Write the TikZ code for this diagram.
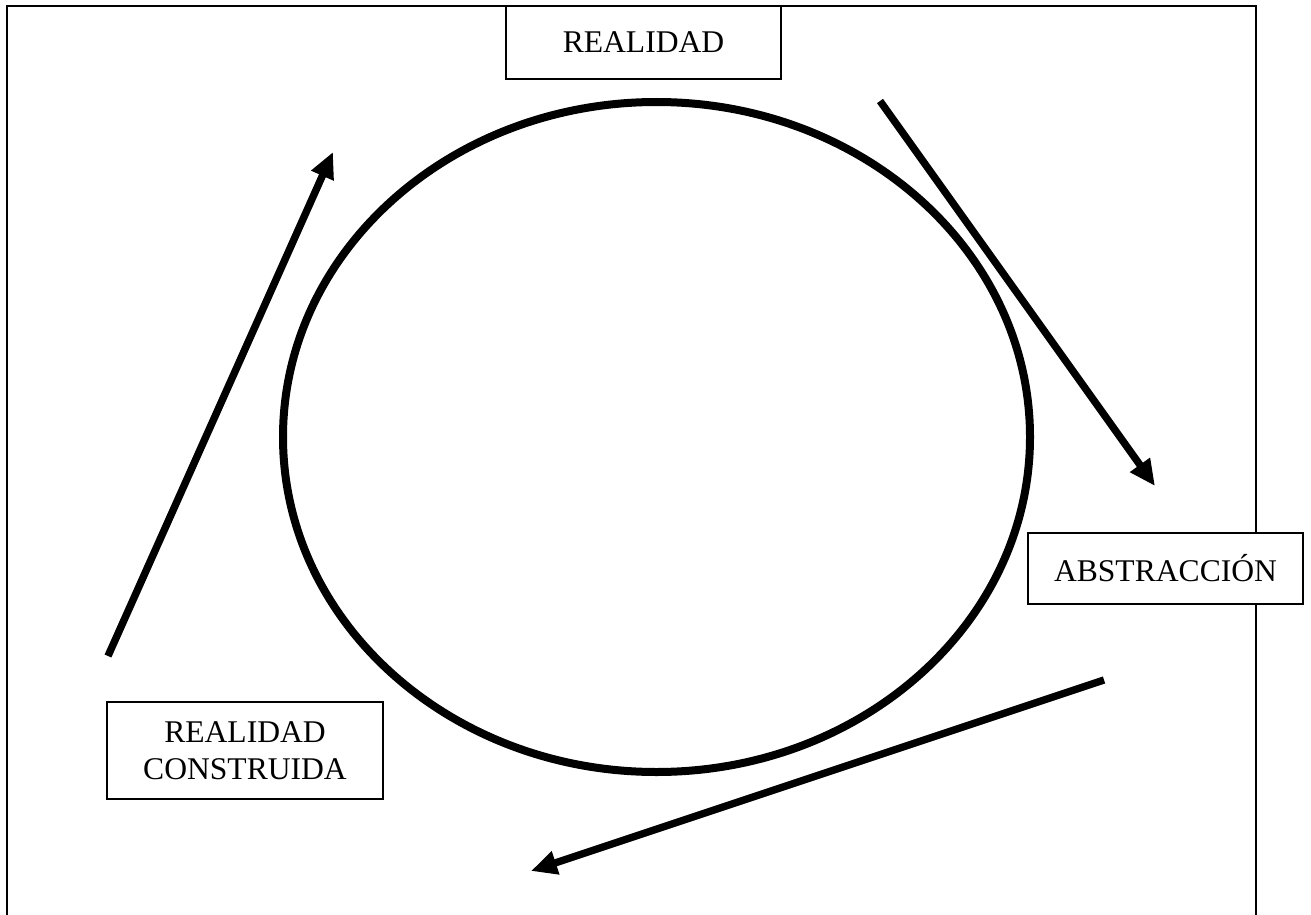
\documentclass[tikz,border=0pt]{standalone}
\usepackage{fontspec}
\setmainfont{Liberation Serif}
\usetikzlibrary{arrows.meta}

\begin{document}
\begin{tikzpicture}[x=0.5pt, y=-0.5pt, >={Triangle[length=13pt, width=11.5pt]}]
% --- Global Styles ---
\tikzstyle{frame} = [line width=1pt]
\tikzstyle{label} = [draw, fill=white, line width=1pt, align=center, inner sep=0pt,
  font=\fontsize{15.8}{18.5}\selectfont]
\tikzstyle{cycle} = [line width=4pt]
\tikzstyle{flow} = [->, line width=3.7pt]

% --- Canvas ---
\useasboundingbox (0,0) rectangle (1311,915);

% Outer frame (open at the bottom)
\draw[frame] (7,915) -- (7,6) -- (1256,6) -- (1256,915);

% ==========================================
% Boxes
% ==========================================
\node[label, minimum width=137.5pt, minimum height=36.5pt] (real)  at (643.5,42.5) {REALIDAD};
\node[label, minimum width=137.5pt, minimum height=35.5pt] (abstr) at (1165.5,568.5) {ABSTRACCIÓN};
\node[label, minimum width=138pt, minimum height=48.5pt]   (const) at (245,750.5) {REALIDAD\\CONSTRUIDA};

% ==========================================
% Central cycle
% ==========================================
\draw[cycle] (656.5,437) ellipse [x radius=373.5, y radius=335];

% ==========================================
% Arrows
% ==========================================
\coordinate (a1s) at (108,656);
\coordinate (a1e) at (333,152);
\coordinate (a2s) at (880,101);
\coordinate (a2e) at (1155,486);
\coordinate (a3s) at (1104,680);
\coordinate (a3e) at (531,871);

\draw[flow] (a1s) -- (a1e);
\draw[flow] (a2s) -- (a2e);
\draw[flow] (a3s) -- (a3e);

\end{tikzpicture}
\end{document}
